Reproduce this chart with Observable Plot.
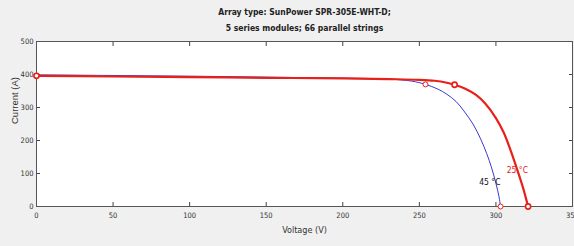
<!DOCTYPE html>
<html>
<head>
<meta charset="utf-8">
<script src="https://cdn.jsdelivr.net/npm/d3@7"></script>
<script src="https://cdn.jsdelivr.net/npm/@observablehq/plot@0.6"></script>
<style>
  html, body { margin: 0; padding: 0; background: #f0f0f0; }
  #chart svg { display: block; }
</style>
</head>
<body>
<div id="chart"></div>
<script>
const titleLines = ["Array type: SunPower SPR-305E-WHT-D;", "5 series modules; 66 parallel strings"];
const xTicks = [0, 50, 100, 150, 200, 250, 300, 350];
const yTicks = [0, 100, 200, 300, 400, 500];

// 25 °C curve
const v25 = [0, 50, 100, 150, 200, 230, 250, 260, 268, 273, 280, 287, 293, 300, 305, 310, 314, 318, 321];
const i25 = [396, 394, 392, 390, 388, 386, 384, 381, 375, 369, 357, 338, 312, 268, 225, 165, 110, 52, 0];
// 45 °C curve
const v45 = [0, 50, 100, 150, 200, 230, 245, 254, 262, 268, 274, 279, 285, 290, 294, 297, 300, 302, 303];
const i45 = [399, 397, 395, 392, 389, 386, 380, 370, 356, 340, 318, 290, 250, 205, 160, 120, 70, 30, 0];

// marked points (Isc, MPP, Voc)
const mark25V = [0, 273, 321];
const mark25I = [396, 369, 0];
const mark45V = [254, 303];
const mark45I = [370, 0];

const labels = [
  {v: 314, i: 110, text: "25 °C", color: "#e8201a"},
  {v: 296, i: 72, text: "45 °C", color: "#111"}
];

const d25 = v25.map((v, k) => ({v, i: i25[k]}));
const d45 = v45.map((v, k) => ({v, i: i45[k]}));
const m25 = mark25V.map((v, k) => ({v, i: mark25I[k]}));
const m45 = mark45V.map((v, k) => ({v, i: mark45I[k]}));

const font = "'DejaVu Sans Condensed', 'Liberation Sans Narrow', Arial, sans-serif";

const chart = Plot.plot({
  width: 574,
  height: 246,
  marginLeft: 36,
  marginRight: 2,
  marginTop: 41,
  marginBottom: 40,
  style: {background: "#f0f0f0", fontFamily: font, fontSize: "8px", color: "#333"},
  x: {domain: [0, 350], label: null},
  y: {domain: [0, 500], label: null},
  marks: [
    Plot.frame({fill: "white", stroke: "none"}),
    Plot.axisX(xTicks, {anchor: "bottom", tickSize: -4, tickPadding: 10, stroke: "#444", fill: "#333", fontSize: 7.5}),
    Plot.axisX(xTicks, {anchor: "top", tickSize: -4, tickFormat: () => "", stroke: "#444", label: null}),
    Plot.axisY(yTicks, {anchor: "left", tickSize: -4, tickPadding: 7, stroke: "#444", fill: "#333", fontSize: 7.5}),
    Plot.axisY(yTicks, {anchor: "right", tickSize: -4, tickFormat: () => "", stroke: "#444", label: null}),
    Plot.frame({stroke: "#555", strokeWidth: 1}),
    Plot.line(d45, {x: "v", y: "i", stroke: "#3a3ad0", strokeWidth: 1, curve: "catmull-rom"}),
    Plot.line(d25, {x: "v", y: "i", stroke: "#e8201a", strokeWidth: 2.2, curve: "catmull-rom"}),
    Plot.dot(m45, {x: "v", y: "i", r: 2.5, stroke: "#e8201a", strokeWidth: 1, fill: "white"}),
    Plot.dot(m25, {x: "v", y: "i", r: 2.6, stroke: "#e8201a", strokeWidth: 1.6, fill: "white"}),
    Plot.text(labels, {x: "v", y: "i", text: "text", fill: "color", fontSize: 8.5, textAnchor: "middle"}),
    Plot.text([titleLines[0]], {frameAnchor: "top", dy: -33, fontWeight: "bold", fontSize: 8.5, fill: "#222"}),
    Plot.text([titleLines[1]], {frameAnchor: "top", dy: -17, fontWeight: "bold", fontSize: 8.5, fill: "#222"}),
    Plot.text(["Voltage (V)"], {frameAnchor: "bottom", dy: 26, fontSize: 9, fill: "#333"}),
    Plot.text(["Current (A)"], {frameAnchor: "left", dx: -22, rotate: -90, fontSize: 9.5, fill: "#333", fontFamily: "'Liberation Sans', Arial, sans-serif"})
  ]
});
document.getElementById("chart").appendChild(chart);
</script>
</body>
</html>
